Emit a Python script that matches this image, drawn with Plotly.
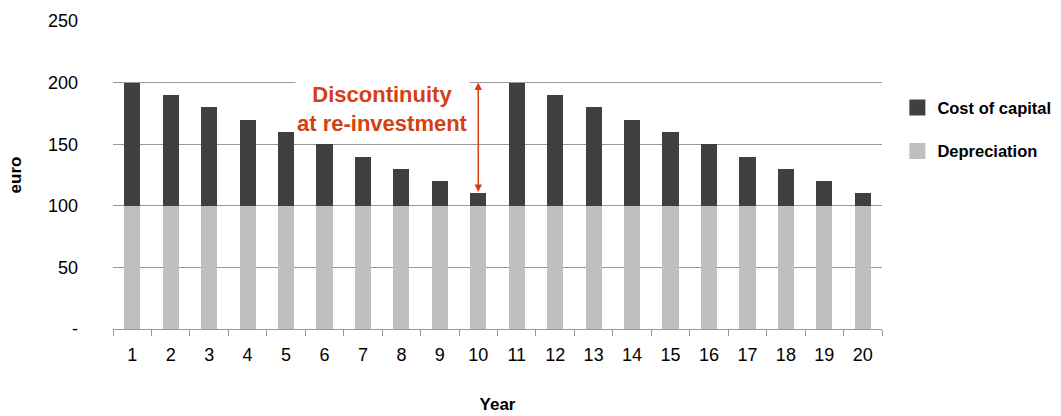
import plotly.graph_objects as go

# DATA
years = list(range(1, 21))
depreciation = [100] * 20
cost_of_capital = [100, 90, 80, 70, 60, 50, 40, 30, 20, 10,
                   100, 90, 80, 70, 60, 50, 40, 30, 20, 10]
y_ticks = [0, 50, 100, 150, 200, 250]
y_ticktext = ["-", "50", "100", "150", "200", "250"]

COLOR_DARK = '#404040'
COLOR_LIGHT = '#BFBFBF'
COLOR_NOTE = '#D4400F'
FONT = "Arial, Liberation Sans, sans-serif"

fig = go.Figure()

fig.add_trace(go.Bar(
    x=years, y=depreciation, name="Depreciation",
    marker=dict(color=COLOR_LIGHT, line=dict(width=0)), showlegend=False
))
fig.add_trace(go.Bar(
    x=years, y=cost_of_capital, name="Cost of capital",
    marker=dict(color=COLOR_DARK, line=dict(width=0)), showlegend=False
))

# legend entries with big square swatches
for name, col in [("Cost of capital", COLOR_DARK), ("Depreciation", COLOR_LIGHT)]:
    fig.add_trace(go.Scatter(
        x=[None], y=[None], mode="markers", name="<b>%s</b>" % name,
        marker=dict(symbol="square", size=22, color=col), legendgroup=name
    ))

# double-headed arrow at re-investment (year 10 -> 11 jump)
top_val = depreciation[10] + cost_of_capital[10]
bottom_val = depreciation[9] + cost_of_capital[9]
fig.add_annotation(
    x=10, y=top_val, ax=10, ay=bottom_val,
    xref="x", yref="y", axref="x", ayref="y",
    text="", showarrow=True, arrowside="end+start",
    arrowhead=2, arrowsize=1, arrowwidth=1.5, arrowcolor=COLOR_NOTE
)
fig.add_annotation(
    x=7.52, y=178.5, xref="x", yref="y",
    text="<b>Discontinuity<br>at re-investment</b>",
    showarrow=False, align="center",
    font=dict(family=FONT, size=22, color=COLOR_NOTE),
    bgcolor="white"
)

fig.update_layout(
    barmode="stack",
    bargap=0.58,
    width=1061, height=416,
    paper_bgcolor="white", plot_bgcolor="white",
    font=dict(family=FONT, size=18, color="#000"),
    margin=dict(l=113, r=179, t=21, b=87, autoexpand=False),
    legend=dict(
        x=1.02, y=0.775, xanchor="left", yanchor="top",
        tracegroupgap=19, font=dict(size=16.5), itemwidth=30
    ),
    xaxis=dict(
        range=[0.5, 20.5], tickvals=years, ticktext=[str(y) for y in years],
        ticks="", showgrid=False, zeroline=False, automargin=False,
        showline=True, linecolor="#999", linewidth=1,
        minor=dict(tickvals=[y + 0.5 for y in range(0, 21)], ticks="outside",
                   ticklen=6, tickcolor="#999", showgrid=False),
        ticklabelstandoff=9,
        title=dict(text="<b>Year</b>", font=dict(size=17), standoff=34)
    ),
    yaxis=dict(
        range=[0, 250], tickvals=y_ticks, ticktext=y_ticktext,
        showgrid=True, gridcolor="#999", gridwidth=1, zeroline=False,
        ticks="", ticklabelstandoff=34, automargin=False,
        title=dict(text="<b>euro</b>", font=dict(size=17), standoff=22)
    ),
)

fig.write_html("out.html", config={"displayModeBar": False},
               post_script="document.body.style.margin='0';")
